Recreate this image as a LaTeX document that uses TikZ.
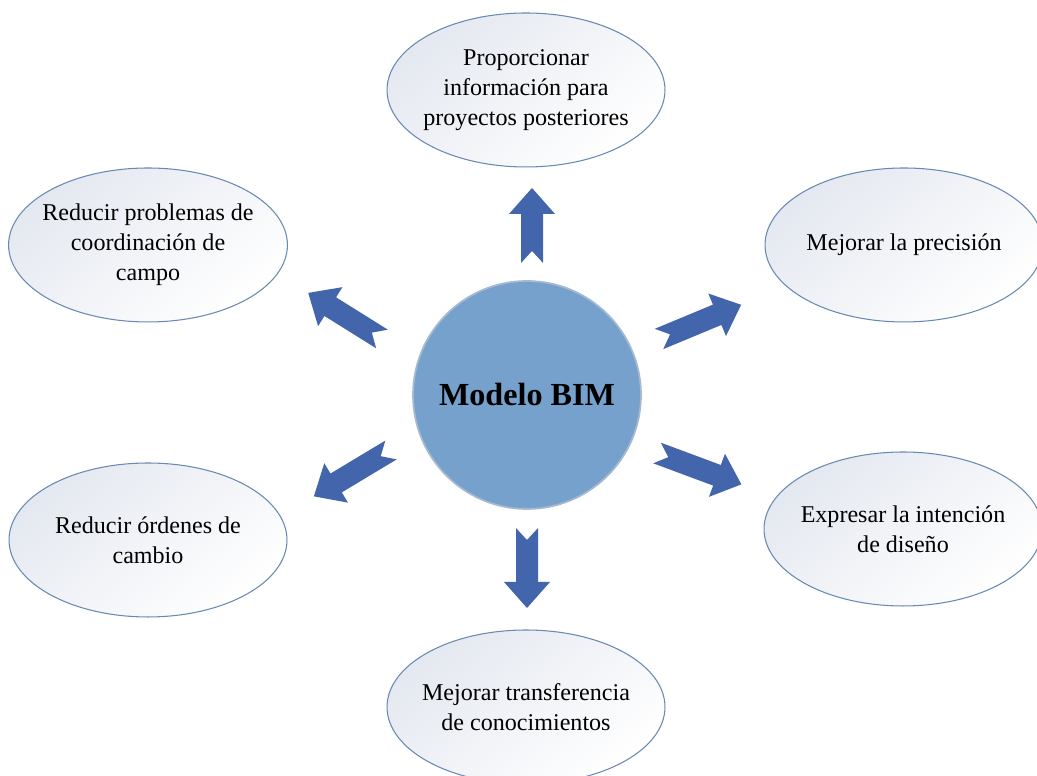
\documentclass[tikz,border=0pt]{standalone}
\usepackage{fontspec}
\setmainfont{Liberation Serif}
\usetikzlibrary{shapes.geometric}

\definecolor{bimfill}{RGB}{118,161,205}
\definecolor{bimline}{RGB}{165,185,208}
\definecolor{goalline}{RGB}{105,137,178}
\definecolor{goalfill}{RGB}{228,232,240}
\definecolor{arrowblue}{RGB}{66,101,172}

% block arrow: tail x, tail y, angle, length
\newcommand{\blockarrow}[4]{%
  \fill[arrowblue,shift={(#1,#2)},rotate=#3]
    (0,11) -- (#4-26,11) -- (#4-26,23) -- (#4,0) -- (#4-26,-23) -- (#4-26,-11) -- (0,-11) -- (12,0) -- cycle;}

\begin{document}
\begin{tikzpicture}[x=0.02cm,y=0.02cm,font=\fontsize{13.7}{17}\selectfont]
	\tikzstyle{goal}=[ellipse,draw=goalline,line width=0.6pt,top color=goalfill,bottom color=white,
	                  shading angle=40,minimum width=5.56cm,minimum height=3.08cm,inner sep=-4pt,align=center]
	\tikzstyle{core}=[circle,fill=bimfill,draw=bimline,line width=1pt,minimum size=4.56cm,
	                  font=\fontsize{18.3}{22}\selectfont\bfseries]

	\useasboundingbox (0,0) rectangle (1037,776);

	\node[core] (bim)    at (527,381) {Modelo BIM};

	\node[goal] (info)   at (526,686) {Proporcionar\\información para\\proyectos posteriores};
	\node[goal] (coord)  at (148,531) {Reducir problemas de\\coordinación de\\campo};
	\node[goal] (prec)   at (904,531) {Mejorar la precisión};
	\node[goal] (orden)  at (148,236) {Reducir órdenes de\\cambio};
	\node[goal] (diseno) at (903,247) {Expresar la intención\\de diseño};
	\node[goal] (conoc)  at (526,69)  {Mejorar transferencia\\de conocimientos};

	% arrows out of the model
	\blockarrow{532}{513}{90}{75}
	\blockarrow{659}{437}{22.6}{89}
	\blockarrow{657}{323}{-20.4}{90}
	\blockarrow{527}{248}{-90}{80}
	\blockarrow{391}{326}{211}{90}
	\blockarrow{382}{437}{148}{87}
\end{tikzpicture}
\end{document}
